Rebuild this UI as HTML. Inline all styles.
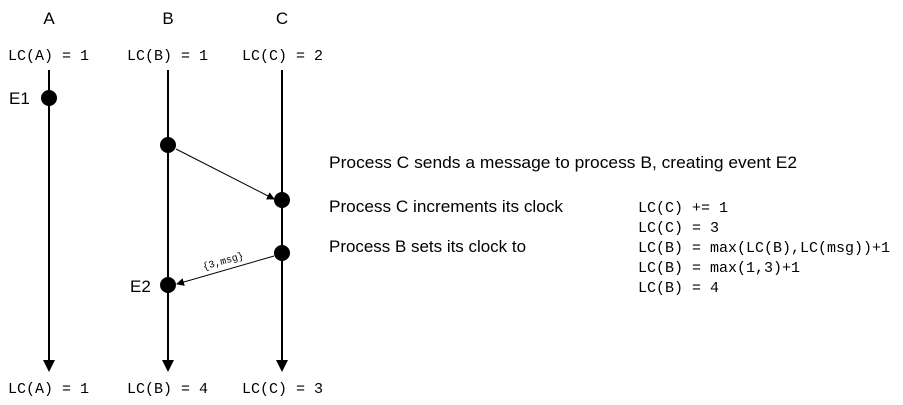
<!DOCTYPE html>
<html><head><style>body{margin:0;background:#fff}</style></head><body>
<svg width="903" height="400" xmlns="http://www.w3.org/2000/svg">
<defs><marker id="a" markerWidth="8" markerHeight="8" refX="7" refY="4" orient="auto" markerUnits="userSpaceOnUse"><path d="M0,0 L8,4 L0,8 z" fill="#000"/></marker></defs>
<g font-family="Liberation Sans, sans-serif" font-size="17" text-anchor="middle" fill="#000">
<text x="49" y="24">A</text><text x="168" y="24">B</text><text x="282" y="24">C</text>
</g>
<g font-family="Liberation Mono, monospace" font-size="15" fill="#000">
<text x="8" y="60">LC(A) = 1</text><text x="127" y="60">LC(B) = 1</text><text x="242" y="60">LC(C) = 2</text>
<text x="8" y="393">LC(A) = 1</text><text x="127" y="393">LC(B) = 4</text><text x="242" y="393">LC(C) = 3</text>
<text x="638" y="212">LC(C) += 1</text>
<text x="638" y="232">LC(C) = 3</text>
<text x="638" y="252">LC(B) = max(LC(B),LC(msg))+1</text>
<text x="638" y="272">LC(B) = max(1,3)+1</text>
<text x="638" y="292">LC(B) = 4</text>
</g>
<g stroke="#000" stroke-width="2">
<line x1="49" y1="70" x2="49" y2="362"/><line x1="168" y1="70" x2="168" y2="362"/><line x1="282" y1="70" x2="282" y2="362"/>
</g>
<g fill="#000">
<path d="M43,360 L55,360 L49,372 z"/><path d="M162,360 L174,360 L168,372 z"/><path d="M276,360 L288,360 L282,372 z"/>
<circle cx="49" cy="98" r="8"/><circle cx="168" cy="145" r="8"/><circle cx="282" cy="200" r="8"/><circle cx="282" cy="253" r="8"/><circle cx="168" cy="285" r="8"/>
</g>
<line x1="176" y1="149" x2="274" y2="199" stroke="#000" stroke-width="1" marker-end="url(#a)"/>
<line x1="274" y1="256" x2="177" y2="284" stroke="#000" stroke-width="1" marker-end="url(#a)"/>
<text x="224" y="264" font-family="Liberation Mono, monospace" font-size="10" text-anchor="middle" transform="rotate(-16 224 264)">{3,msg}</text>
<g font-family="Liberation Sans, sans-serif" font-size="17" fill="#000">
<text x="9" y="104">E1</text><text x="130" y="292">E2</text>
<text x="329" y="168" textLength="468" lengthAdjust="spacingAndGlyphs">Process C sends a message to process B, creating event E2</text>
<text x="329" y="212" textLength="234" lengthAdjust="spacingAndGlyphs">Process C increments its clock</text>
<text x="329" y="252" textLength="197" lengthAdjust="spacingAndGlyphs">Process B sets its clock to</text>
</g>
</svg>
</body></html>
